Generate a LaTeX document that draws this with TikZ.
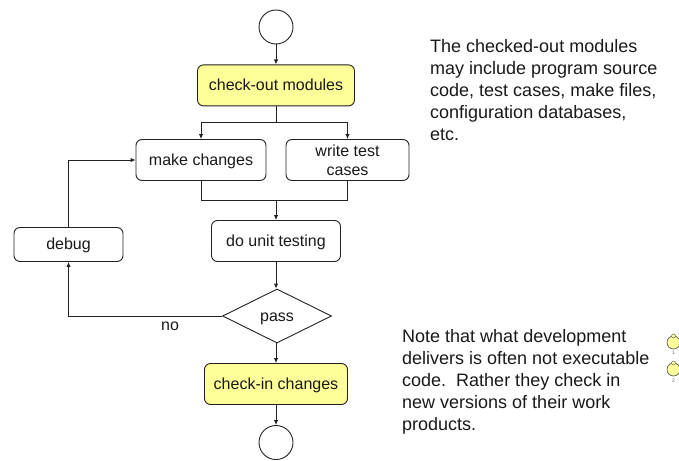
\documentclass[tikz,border=0pt]{standalone}
\usepackage{fontspec}
\setmainfont{Liberation Sans}
\usetikzlibrary{arrows.meta,positioning,shapes.geometric}
\definecolor{stepyellow}{HTML}{FFFF99}
\definecolor{linegray}{HTML}{222222}
\tikzset{
  x=1pt, y=1pt,
  every node/.style={font=\fontsize{16}{19.3}\selectfont, text=black!90},
  term/.style={draw=linegray, circle, minimum size=34pt, inner sep=0pt, line width=0.9pt},
  proc/.style={draw=linegray, rounded corners=6pt, align=center, inner sep=0pt, minimum height=41pt, line width=0.9pt},
  oneline/.style={proc, text height=13pt, text depth=3pt},
  main/.style={oneline, fill=stepyellow},
  test/.style={draw=linegray, diamond, aspect=2, inner sep=0pt, minimum width=109pt, minimum height=54pt, line width=0.9pt, text height=13pt, text depth=3pt},
  note/.style={font=\fontsize{18}{22}\selectfont, align=left, inner sep=0pt, anchor=north west},
  mini/.style={draw=black!70, fill=stepyellow, circle, minimum size=13pt, inner sep=0pt, line width=0.6pt},
  knob/.style={draw=black!70, fill=stepyellow, circle, minimum size=4pt, inner sep=0pt, line width=0.4pt},
  tiny/.style={font=\fontsize{5}{5}\selectfont, text=black!60, inner sep=0pt},
  arrow/.style={-{Latex[length=5pt,width=4.5pt]}, draw=linegray, line width=1pt},
  line/.style={draw=linegray, line width=1pt}
}
\begin{document}
\begin{tikzpicture}[node distance=20pt]
    \useasboundingbox (0,0) rectangle (679,-460);
    \node[term] (start) at (276,-27) {};
    \node[main, minimum width=157pt, below=20pt of start] (checkout) {check-out modules};
    \node[oneline, minimum width=130pt] (make) at (201,-160) {make changes};
    \node[proc, minimum width=123pt] (write) at (347.5,-160) {write test\\ cases};
    \node[oneline, minimum width=129pt] (unit) at (276,-241) {do unit testing};
    \node[oneline, minimum width=109pt, minimum height=34pt] (debug) at (68.5,-244.5) {debug};
    \node[test] (pass) at (277,-316) {pass};
    \node[main, minimum width=143pt] (checkin) at (276,-384) {check-in changes};
    \node[term] (end) at (276,-442.5) {};
    \node (no) at (170,-326) {no};

    \coordinate (split) at (276,-122);
    \coordinate (merge) at (276,-200);

    \draw[line] (checkout.south) -- (split);
    \draw[arrow] (start) -- (checkout);
    \draw[arrow] (split) -| (make.north);
    \draw[arrow] (split) -| (write.north);
    \draw[line] (make.south) |- (merge);
    \draw[line] (write.south) |- (merge);
    \draw[arrow] (merge) -- (unit);
    \draw[arrow] (unit) -- (unit |- pass.north);
    \draw[arrow] (pass.south -| checkin) -- (checkin);
    \draw[arrow] (checkin) -- (end);
    \draw[arrow] (pass.west) -| (debug.south);
    \draw[arrow] (debug.north) |- (make.west);

    \node[note] (top) at (430,-39.2) {The checked-out modules\\ may include program source\\ code, test cases, make files,\\ configuration databases,\\ etc.};
    \node[note] (bottom) at (402,-329.7) {Note that what development\\ delivers is often not executable\\ code.\ \ Rather they check in\\ new versions of their work\\ products.};

    \node[mini] (first) at (673.5,-342.5) {};
    \node[mini] (second) at (673.5,-369.5) {};
    \node[knob] (firstknob) at (673.5,-336) {};
    \node[knob] (secondknob) at (673.5,-363) {};
    \node[tiny] (firstnum) at (673.5,-353) {1};
    \node[tiny] (secondnum) at (673.5,-381) {2};
\end{tikzpicture}
\end{document}
